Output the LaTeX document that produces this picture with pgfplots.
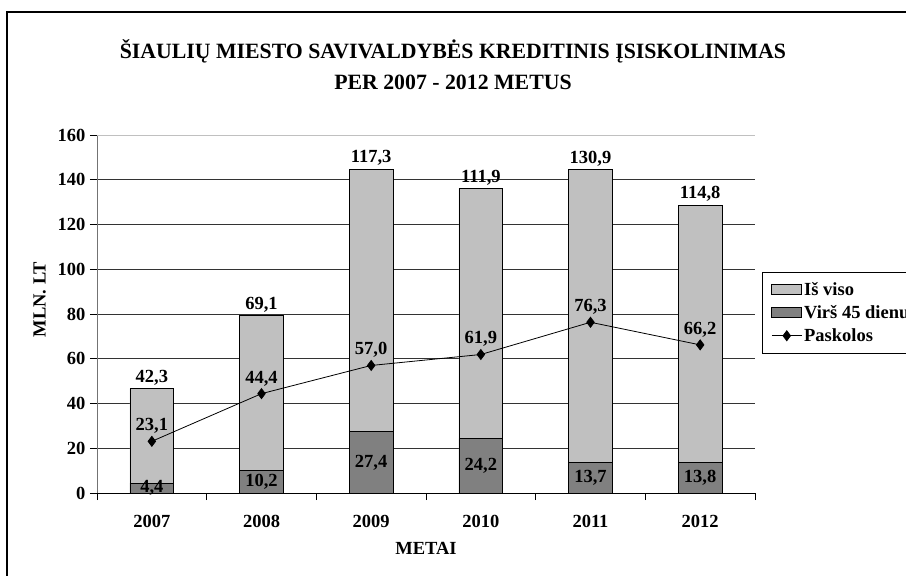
\documentclass[border=0pt]{standalone}
\usepackage{fontspec}
\setmainfont{Liberation Serif}
\usepackage{pgfplots}
\pgfplotsset{compat=1.18}
\usepackage{pgfplotstable}
\definecolor{lightbar}{HTML}{C0C0C0}
\definecolor{darkbar}{HTML}{808080}
\pgfplotstableread{
x dark light loan
0 4.4 42.3 23.1
1 10.2 69.1 44.4
2 27.4 117.3 57.0
3 24.2 111.9 61.9
4 13.7 130.9 76.3
5 13.8 114.8 66.2
}\datatable
\newcommand\lblfont{\bfseries\fontsize{18.5}{22}\selectfont}
\pgfplotsset{
  common/.style={at={(97pt,83pt)}, anchor=south west, scale only axis,
    width=658pt, height=358pt, xmin=-0.5, xmax=5.5, ymin=0, ymax=160},
  barlegend/.style={legend image code/.code={\draw[##1] (0pt,-5pt) rectangle (30pt,5pt);}},
  linelegend/.style={legend image code/.code={\draw[mark repeat=2,mark phase=2,##1] plot coordinates {(0pt,0pt) (15pt,0pt) (30pt,0pt)};}},
}
\begin{document}
\begin{tikzpicture}[font=\lblfont]
\useasboundingbox (0,0) rectangle (906pt,576pt);
\clip (0,0) rectangle (906pt,576pt);
\fill[white] (0,0) rectangle (906pt,576pt);
\draw[line width=1.5pt] (7pt,564pt) rectangle (960pt,-30pt);
\node[align=center, font=\bfseries\fontsize{21.8}{31}\selectfont] at (453pt,511pt)
  {ŠIAULIŲ MIESTO SAVIVALDYBĖS KREDITINIS ĮSISKOLINIMAS\\PER 2007 - 2012 METUS};
\begin{axis}[common,
  ybar stacked, bar width=0.4,
  axis x line*=bottom, axis y line*=left,
  axis line style={line width=0.8pt},
  y axis line style={black!55},
  ytick={0,20,...,140}, extra y ticks={160},
  extra y tick style={grid style={color=lightbar, line width=0.8pt}},
  ymajorgrids, grid style={black!80, line width=0.8pt},
  xtick={0,...,5}, xticklabels={2007,2008,2009,2010,2011,2012},
  minor xtick={-0.5,0.5,...,5.5},
  major x tick style={draw=none},
  minor x tick style={black, line width=0.8pt},
  tick align=outside, major tick length=7pt, minor tick length=7pt,
  y tick style={black, line width=0.8pt},
  /pgf/number format/assume math mode=true,
  tick label style={font=\lblfont},
  yticklabel style={xshift=-1pt},
  xticklabel style={yshift=-12pt},
  xlabel={METAI}, ylabel={MLN. LT},
  xlabel style={at={(axis description cs:0.5,-0.156)}, anchor=center},
  ylabel style={at={(axis description cs:-0.087,0.54)}, anchor=center},
  label style={font=\lblfont},
]
\addplot[fill=darkbar, draw=black, line width=0.8pt] table[x=x,y=dark]{\datatable};
\addplot[fill=lightbar, draw=black, line width=0.8pt] table[x=x,y=light]{\datatable};
\end{axis}
\begin{axis}[common, hide axis, clip=false,
  /pgf/number format/.cd, fixed, fixed zerofill, precision=1, use comma, assume math mode=true,
  /pgfplots/.cd,
  nodes near coords style={text=black, font=\lblfont},
  legend style={at={(1.0106,0.617)}, anchor=north west, draw=black, line width=0.8pt,
    font=\lblfont, cells={anchor=west},
    row sep=4.5pt, inner xsep=9pt, inner ysep=8pt},
]
\addlegendimage{barlegend, fill=lightbar, draw=black, line width=0.8pt}
\addlegendentry{Iš viso}
\addlegendimage{barlegend, fill=darkbar, draw=black, line width=0.8pt}
\addlegendentry{Virš 45 dienu}
\addplot[draw=none, mark=none, forget plot, nodes near coords, point meta=explicit]
  table[x=x, y expr=\thisrow{dark}+\thisrow{light}, meta=light]{\datatable};
\addplot[draw=none, mark=none, forget plot, nodes near coords, point meta=explicit,
  nodes near coords style={anchor=center}]
  table[x=x, y expr=\thisrow{dark}/2, meta=dark]{\datatable};
\addplot[black, line width=0.8pt, mark=diamond*, mark size=5pt, linelegend,
  nodes near coords, point meta=explicit, nodes near coords style={yshift=4pt}]
  table[x=x, y=loan, meta=loan]{\datatable};
\addlegendentry{Paskolos}
\end{axis}
\end{tikzpicture}
\end{document}
